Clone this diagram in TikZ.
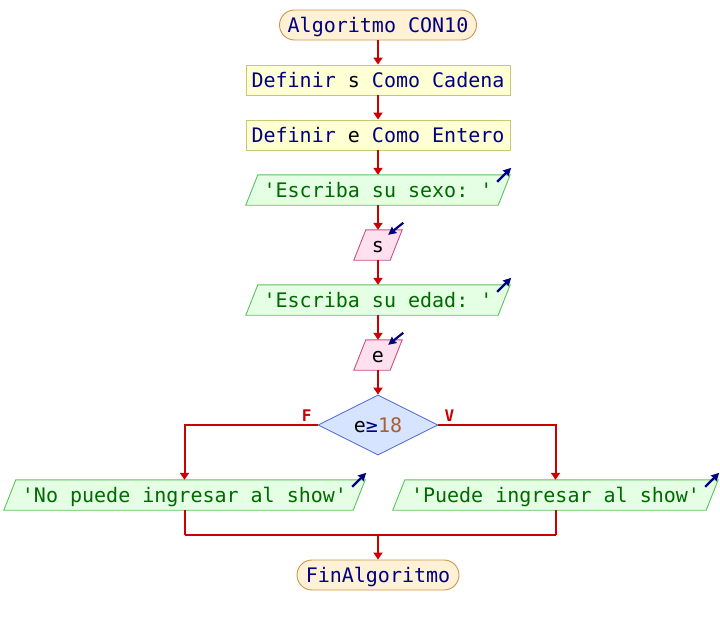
\documentclass[tikz,border=0pt]{standalone}
\usepackage{fontspec}
\setmonofont{DejaVu Sans Mono}
\usetikzlibrary{shapes.geometric,arrows.meta,backgrounds}
\definecolor{flowred}{RGB}{204,0,0}
\definecolor{navytxt}{RGB}{0,0,128}
\definecolor{termfill}{RGB}{255,241,214}
\definecolor{termdraw}{RGB}{205,150,70}
\definecolor{procfill}{RGB}{255,255,212}
\definecolor{procdraw}{RGB}{200,200,110}
\definecolor{outfill}{RGB}{228,255,228}
\definecolor{outdraw}{RGB}{90,195,90}
\definecolor{outtxt}{RGB}{0,105,0}
\definecolor{infill}{RGB}{255,224,238}
\definecolor{indraw}{RGB}{200,80,130}
\definecolor{decfill}{RGB}{214,228,255}
\definecolor{decdraw}{RGB}{70,100,215}
\definecolor{numtxt}{RGB}{170,95,50}
\newcommand\paraback[4]{%
  \begin{pgfonlayer}{background}
    \filldraw[#1] ([xshift=#3]#2.north west) -- ([xshift=#3]#2.north east)
      -- ([xshift=-#3]#2.south east) -- ([xshift=-#3]#2.south west) -- cycle;
  \end{pgfonlayer}
  \draw[marker,#4] ([shift={(-7,7)}]#2.north east) -- ([shift={(7,-7)}]#2.north east);
}
\newcommand\inback[3]{%
  \begin{pgfonlayer}{background}
    \filldraw[#1] ([xshift=#3]#2.north west) -- ([xshift=#3]#2.north east)
      -- ([xshift=-#3]#2.south east) -- ([xshift=-#3]#2.south west) -- cycle;
  \end{pgfonlayer}
  \draw[marker] ([shift={(7,-7)}]#2.north east) -- ([shift={(-8,5)}]#2.north east);
}
\begin{document}
\begin{tikzpicture}[x=1pt,y=-1pt,
  font=\ttfamily\fontsize{20}{24}\selectfont,
  base/.style={minimum height=30pt, inner sep=0pt, text height=14pt, text depth=0pt},
  term/.style={base, draw=termdraw, fill=termfill, line width=0.9pt, rounded corners=15pt, text=navytxt},
  proc/.style={base, draw=procdraw, fill=procfill, line width=0.9pt, text=navytxt},
  outp/.style={base, text=outtxt},
  inp/.style={base, text=black},
  outshape/.style={draw=outdraw, fill=outfill, line width=0.9pt},
  inshape/.style={draw=indraw, fill=infill, line width=0.9pt},
  dec/.style={shape=diamond, draw=decdraw, fill=decfill, line width=0.8pt, aspect=2,
    minimum width=120pt, minimum height=60pt, inner sep=0pt},
  flow/.style={draw=flowred, line width=2pt, -{Triangle[length=7pt,width=9pt]}},
  line/.style={draw=flowred, line width=2pt},
  marker/.style={draw=navytxt, line width=2.2pt, -{Stealth[length=8pt,width=8pt,inset=1pt]}},
  lab/.style={text=flowred, font=\ttfamily\bfseries\fontsize{16}{17}\selectfont, inner sep=0pt}
]
\useasboundingbox (0,0) rectangle (720,625);
\begin{pgfonlayer}{background}
  \fill[white] (0,0) rectangle (720,625);
\end{pgfonlayer}

\node[term, minimum width=197pt] (start) at (378,25) {Algoritmo CON10};
\node[proc, minimum width=264pt] (d1) at (378,80) {Definir {\color{black}s} Como Cadena};
\node[proc, minimum width=264pt] (d2) at (378,135) {Definir {\color{black}e} Como Entero};
\node[outp, minimum width=252pt] (o1) at (378,190) {'Escriba su sexo: '};
\node[inp, minimum width=36pt] (i1) at (378,245) {s};
\node[outp, minimum width=252pt] (o2) at (378,300) {'Escriba su edad: '};
\node[inp, minimum width=36pt] (i2) at (378,355) {e};
\node[dec] (c) at (378,425) {e{\color{navytxt}≥}{\color{numtxt}18}};
\node[outp, minimum width=349pt] (o3) at (184.5,495) {'No puede ingresar al show'};
\node[outp, minimum width=313pt] (o4) at (555.5,495) {'Puede ingresar al show'};
\coordinate (j) at (378,535);
\coordinate (jl) at (o3 |- j);
\coordinate (jr) at (o4 |- j);
\node[term, minimum width=162pt] (end) at (378,575) {FinAlgoritmo};

\paraback{outshape}{o1}{6pt}{}
\paraback{outshape}{o2}{6pt}{}
\paraback{outshape}{o3}{6pt}{}
\paraback{outshape}{o4}{6pt}{}
\inback{inshape}{i1}{6pt}
\inback{inshape}{i2}{6pt}

\draw[flow] (start) -- (d1);
\draw[flow] (d1) -- (d2);
\draw[flow] (d2) -- (o1);
\draw[flow] (o1) -- (i1);
\draw[flow] (i1) -- (o2);
\draw[flow] (o2) -- (i2);
\draw[flow] (i2) -- (c);
\draw[flow] (c.west) -| node[lab, pos=0, xshift=-11pt, yshift=9pt] {F} (o3.north);
\draw[flow] (c.east) -| node[lab, pos=0, xshift=11pt, yshift=9pt] {V} (o4.north);
\draw[line] (o3) -- (jl);
\draw[line] (o4) -- (jr);
\draw[line] (jl) -- (jr);
\draw[flow] (j) -- (end);
\end{tikzpicture}
\end{document}
